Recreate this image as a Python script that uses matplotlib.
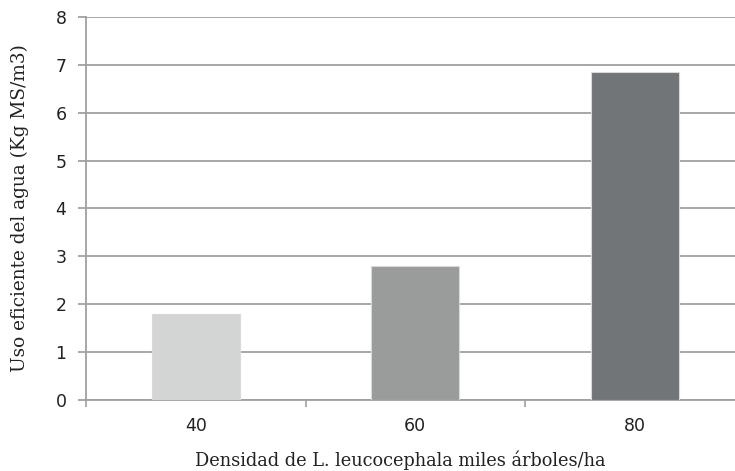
import matplotlib
matplotlib.use("Agg")
import matplotlib.pyplot as plt
import numpy as np

densidades = ["40", "60", "80"]
uso_agua = [1.8, 2.8, 6.85]
colores = ["#d3d4d4", "#9a9c9c", "#727577"]
y_ticks = [0, 1, 2, 3, 4, 5, 6, 7, 8]

fig = plt.figure(figsize=(7.35, 4.71), dpi=100)
# the plot area runs slightly past the right edge of the figure
ax = fig.add_axes([0.117, 0.1507, 0.896, 0.8133])

x = np.arange(len(densidades))
ax.bar(x, uso_agua, width=0.40, color=colores, edgecolor="#d8d9d9",
       linewidth=0.8, zorder=3)

ax.set_xlim(-0.5, len(densidades) - 0.5)
ax.set_ylim(0, 8)
ax.set_yticks(y_ticks)
ax.yaxis.grid(True, color="#a0a0a0", linewidth=1.3, zorder=0)
ax.set_axisbelow(True)

ax.set_xticks(x)
ax.set_xticklabels(densidades)
ax.set_xticks(np.arange(-0.5, len(densidades)), minor=True)
ax.tick_params(axis="x", which="major", length=0, pad=12, labelsize=12.5,
               labelcolor="#222222")
ax.tick_params(axis="x", which="minor", length=5, width=1.2, color="#a0a0a0")
ax.tick_params(axis="y", length=6, width=1.3, color="#a0a0a0", pad=8,
               labelsize=12.5, labelcolor="#222222")

for s in ["top", "right"]:
    ax.spines[s].set_visible(False)
for s in ["left", "bottom"]:
    ax.spines[s].set_color("#a0a0a0")
    ax.spines[s].set_linewidth(1.3)

ax.set_xlabel("Densidad de L. leucocephala miles árboles/ha",
              fontfamily="DejaVu Serif", fontsize=12.8, color="#222222")
ax.xaxis.set_label_coords(0.4765, -0.133)
ax.set_ylabel("Uso eficiente del agua (Kg MS/m3)",
              fontfamily="DejaVu Serif", fontsize=13.3, color="#222222", labelpad=19)

fig.savefig("out.png", dpi=100)
